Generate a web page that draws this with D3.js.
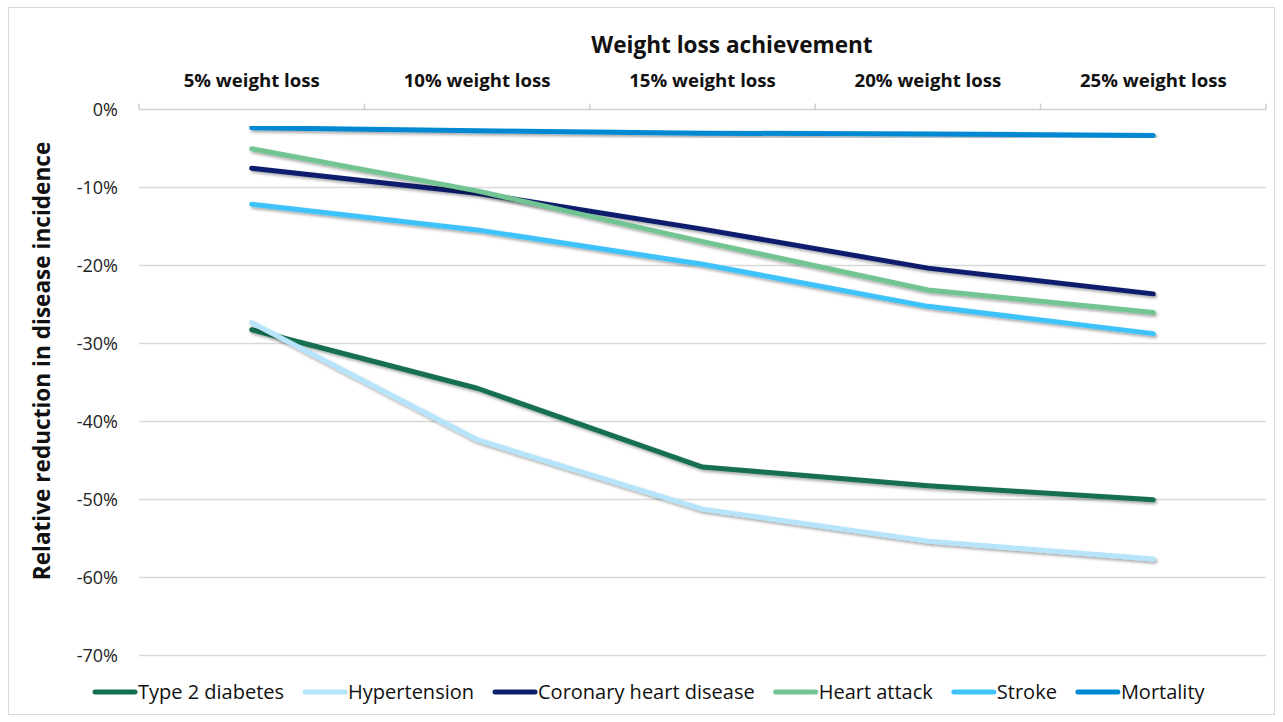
<!DOCTYPE html>
<html>
<head>
<meta charset="utf-8">
<script src="https://cdn.jsdelivr.net/npm/d3@7"></script>
<style>
  body { margin: 0; background: #fff; }
  svg { font-family: "Open Sans", sans-serif; }
</style>
</head>
<body>
<svg id="chart" width="1283" height="722"></svg>
<script>
// data
var categories = ["5% weight loss", "10% weight loss", "15% weight loss", "20% weight loss", "25% weight loss"];
var seriesNames = ["Type 2 diabetes", "Hypertension", "Coronary heart disease", "Heart attack", "Stroke", "Mortality"];
var diabetes     = [-28.3, -35.8, -45.9, -48.3, -50.1];
var hypertension = [-27.4, -42.4, -51.3, -55.4, -57.7];
var chd          = [-7.6, -10.8, -15.4, -20.4, -23.7];
var heartAttack  = [-5.1, -10.5, -17.0, -23.2, -26.1];
var stroke       = [-12.2, -15.5, -19.9, -25.3, -28.8];
var mortality    = [-2.4, -2.8, -3.1, -3.2, -3.4];
var yTicks = [0, -10, -20, -30, -40, -50, -60, -70];
var colors = ["#13704f", "#b5e4fb", "#0c1f6c", "#72c492", "#3ec3fa", "#0188d2"];

var seriesValues = [diabetes, hypertension, chd, heartAttack, stroke, mortality];
var series = seriesNames.map((name, i) => ({name: name, values: seriesValues[i], color: colors[i]}));

var svg = d3.select("#chart"),
    margin = {top: 109, left: 139, right: 17, bottom: 67},
    width = +svg.attr("width"),
    height = +svg.attr("height");

// outer border
svg.append("rect")
    .attr("x", 8.5).attr("y", 7.5)
    .attr("width", width - 17).attr("height", height - 15)
    .attr("fill", "none").attr("stroke", "#d9d9d9");

var defs = svg.append("defs");
var f = defs.append("filter").attr("id", "shadow")
    .attr("x", "-5%").attr("y", "-20%").attr("width", "110%").attr("height", "140%");
f.append("feDropShadow")
    .attr("dx", 1.5).attr("dy", 2).attr("stdDeviation", 1.5)
    .attr("flood-color", "#000").attr("flood-opacity", 0.35);

var x = d3.scaleBand()
    .domain(categories)
    .range([margin.left, width - margin.right]);

var y = d3.scaleLinear()
    .domain([0, -70])
    .range([margin.top, height - margin.bottom]);

// gridlines
svg.append("g")
    .selectAll("line")
    .data(yTicks.slice(1))
    .enter().append("line")
    .attr("x1", x.range()[0]).attr("x2", x.range()[1])
    .attr("y1", d => Math.round(y(d)) + 0.5).attr("y2", d => Math.round(y(d)) + 0.5)
    .attr("stroke", "#d9d9d9").attr("stroke-width", 1.3);

// y axis labels
svg.append("g")
    .selectAll("text")
    .data(yTicks)
    .enter().append("text")
    .attr("x", 118)
    .attr("y", d => y(d) + 1)
    .attr("dy", "0.35em")
    .attr("text-anchor", "end")
    .attr("font-size", 18)
    .attr("fill", "#222")
    .text(d => d + "%");

// top category axis
var xAxis = svg.append("g")
    .attr("transform", `translate(0,${Math.round(y(0)) + 0.5})`)
    .call(d3.axisTop(x).tickSize(0).tickPadding(23))
    .attr("font-family", null)
    .attr("font-size", null);
xAxis.select(".domain").remove();
xAxis.selectAll("text")
    .attr("font-size", 18.6).attr("font-weight", "bold")
    .attr("fill", "#111");

var bounds = categories.map(c => x(c)).concat([x.range()[1]]);
xAxis.append("line")
    .attr("x1", x.range()[0]).attr("x2", x.range()[1])
    .attr("stroke", "#d0d0d0").attr("stroke-width", 1.5);
xAxis.selectAll(".bound")
    .data(bounds)
    .enter().append("line")
    .attr("class", "bound")
    .attr("x1", d => d).attr("x2", d => d)
    .attr("y1", 0).attr("y2", -6)
    .attr("stroke", "#d0d0d0").attr("stroke-width", 1.5);

// axis titles
svg.append("text")
    .attr("x", 732)
    .attr("y", 53)
    .attr("text-anchor", "middle")
    .attr("font-size", 22.6).attr("font-weight", "bold")
    .attr("fill", "#111")
    .text("Weight loss achievement");

svg.append("text")
    .attr("transform", "translate(50,361) rotate(-90)")
    .attr("text-anchor", "middle")
    .attr("font-size", 22.6).attr("font-weight", "bold")
    .attr("fill", "#111")
    .text("Relative reduction in disease incidence");

// lines
var line = d3.line()
    .x((d, i) => x(categories[i]) + x.bandwidth() / 2)
    .y(d => y(d));

svg.append("g")
    .selectAll("path")
    .data(series)
    .enter().append("path")
    .attr("d", d => line(d.values))
    .attr("fill", "none")
    .attr("stroke", d => d.color)
    .attr("stroke-width", 5)
    .attr("stroke-linecap", "round")
    .attr("stroke-linejoin", "round")
    .attr("filter", "url(#shadow)");

// legend
var legend = svg.append("g").attr("transform", "translate(0,692)");
var lx = 95;
series.forEach(function(s) {
    var g = legend.append("g").attr("transform", `translate(${lx},0)`);
    g.append("line")
        .attr("x1", 0).attr("x2", 40)
        .attr("stroke", s.color).attr("stroke-width", 5)
        .attr("stroke-linecap", "round");
    var t = g.append("text")
        .attr("x", 43)
        .attr("dy", "0.35em")
        .attr("font-size", 20)
        .attr("fill", "#111")
        .text(s.name);
    lx += 43 + t.node().getComputedTextLength() + 21;
});
</script>
</body>
</html>
